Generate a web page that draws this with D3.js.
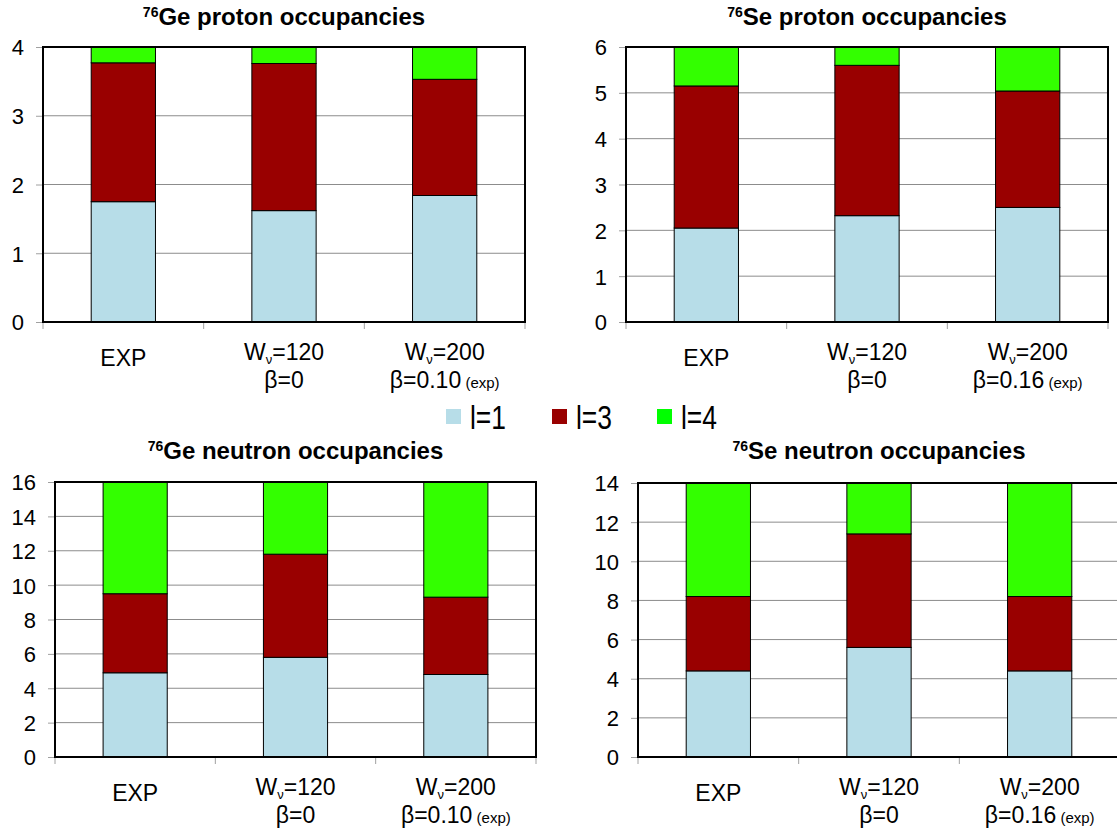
<!DOCTYPE html>
<html>
<head>
<meta charset="utf-8">
<script src="https://cdn.jsdelivr.net/npm/d3@7"></script>
<style>
  html, body { margin: 0; padding: 0; background: #fff; }
  svg { display: block; }
  svg text { font-family: "Liberation Sans", Arial, sans-serif; }
</style>
</head>
<body>
<svg id="chart" width="1117" height="831"></svg>
<script>
// ---------- data ----------
const categories = ["EXP", "W120", "W200"];
const wValues = ["", "120", "200"];
const geBeta = ["", "0", "0.10"];
const seBeta = ["", "0", "0.16"];
const seriesNames = ["l=1", "l=3", "l=4"];

const geProtonL1 = [1.75, 1.62, 1.84];
const geProtonL3 = [2.02, 2.14, 1.69];
const geProtonL4 = [0.23, 0.24, 0.47];

const seProtonL1 = [2.05, 2.32, 2.50];
const seProtonL3 = [3.10, 3.28, 2.54];
const seProtonL4 = [0.85, 0.40, 0.96];

const geNeutronL1 = [4.9, 5.8, 4.8];
const geNeutronL3 = [4.6, 6.0, 4.5];
const geNeutronL4 = [6.5, 4.2, 6.7];

const seNeutronL1 = [4.4, 5.6, 4.4];
const seNeutronL3 = [3.8, 5.8, 3.8];
const seNeutronL4 = [5.8, 2.6, 5.8];

const geProtonTicks = [0, 1, 2, 3, 4];
const seProtonTicks = [0, 1, 2, 3, 4, 5, 6];
const geNeutronTicks = [0, 2, 4, 6, 8, 10, 12, 14, 16];
const seNeutronTicks = [0, 2, 4, 6, 8, 10, 12, 14];

// ---------- styles ----------
const barColors = ["#b7dde8", "#990000", "#33ff00"];
const legendColors = ["#b7dde8", "#990000", "#00ff00"];
const FONT = "'Liberation Sans', Arial, sans-serif";

const svg = d3.select("#chart");
svg.append("rect").attr("width", 1117).attr("height", 831).attr("fill", "#fff");

function panel(cfg) {
  const { x0, x1, y0, y1, l1, l3, l4, ticks, nucleus, kind, beta, titleY } = cfg;
  const g = svg.append("g");
  const x = d3.scaleBand().domain(categories).range([x0, x1]).padding(0);
  const y = d3.scaleLinear().domain([0, d3.max(ticks)]).range([y1, y0]);

  // gridlines
  g.append("g").selectAll("line").data(ticks.filter(t => t > 0)).join("line")
    .attr("x1", x0).attr("x2", x1)
    .attr("y1", d => y(d)).attr("y2", d => y(d))
    .attr("stroke", "#8c8c8c").attr("stroke-width", 1);

  // y axis
  const ya = g.append("g").attr("transform", `translate(${x0},0)`)
    .call(d3.axisLeft(y).tickValues(ticks).tickSize(7).tickPadding(12).tickFormat(d3.format("d")));
  ya.attr("font-family", FONT).attr("font-size", 22);
  ya.select(".domain").remove();
  ya.selectAll(".tick line").attr("stroke", "#a0a0a0");
  ya.selectAll(".tick text").attr("fill", "#000").attr("dy", "0.36em");

  // stacked bars
  const rows = categories.map((c, i) => ({ cat: c, l1: l1[i], l3: l3[i], l4: l4[i] }));
  const stack = d3.stack().keys(["l1", "l3", "l4"])(rows);
  const bw = x.bandwidth() * 0.4;
  g.append("g").selectAll("g").data(stack).join("g")
    .attr("fill", (d, i) => barColors[i])
    .selectAll("rect").data(d => d).join("rect")
    .attr("x", d => x(d.data.cat) + (x.bandwidth() - bw) / 2)
    .attr("width", bw)
    .attr("y", d => y(d[1]))
    .attr("height", d => y(d[0]) - y(d[1]))
    .attr("stroke", "#000").attr("stroke-width", 1);

  // frame
  g.append("rect").attr("x", x0).attr("y", y0).attr("width", x1 - x0).attr("height", y1 - y0)
    .attr("fill", "none").attr("stroke", "#000").attr("stroke-width", 2);

  // x boundary ticks
  const bounds = categories.map(c => x(c)).concat([x1]);
  g.append("g").selectAll("line").data(bounds).join("line")
    .attr("x1", d => d).attr("x2", d => d)
    .attr("y1", y1 + 1).attr("y2", y1 + 7)
    .attr("stroke", "#a0a0a0").attr("stroke-width", 1);

  // x axis labels via band scale
  const xa = g.append("g").attr("transform", `translate(0,${y1})`)
    .call(d3.axisBottom(x).tickSize(0).tickFormat(""));
  xa.attr("font-family", FONT).attr("font-size", 23);
  xa.select(".domain").remove();
  xa.selectAll(".tick").each(function (d, i) {
    const t = d3.select(this);
    if (i === 0) {
      t.append("text").attr("y", 44).attr("text-anchor", "middle").attr("fill", "#000").text(d);
    } else {
      const t1 = t.append("text").attr("y", 38).attr("text-anchor", "middle").attr("fill", "#000");
      t1.append("tspan").text("W");
      t1.append("tspan").attr("font-size", 13).attr("dy", 4).text("ν");
      t1.append("tspan").attr("dy", -4).text("=" + wValues[i]);
      const t2 = t.append("text").attr("y", 66).attr("text-anchor", "middle").attr("fill", "#000");
      t2.append("tspan").text("β=" + beta[i]);
      if (i === 2) t2.append("tspan").attr("font-size", 15).text(" (exp)");
    }
  });

  // title
  const title = svg.append("text").attr("x", (x0 + x1) / 2).attr("y", titleY)
    .attr("text-anchor", "middle").attr("font-weight", "bold").attr("font-size", 24).attr("fill", "#000");
  title.append("tspan").attr("font-size", 14).attr("dy", -8).text("76");
  title.append("tspan").attr("dy", 8).text(nucleus + " " + kind + " occupancies");
}

panel({ x0: 43, x1: 525, y0: 47, y1: 322, l1: geProtonL1, l3: geProtonL3, l4: geProtonL4,
  ticks: geProtonTicks, nucleus: "Ge", kind: "proton", beta: geBeta, titleY: 25 });
panel({ x0: 626, x1: 1108, y0: 47, y1: 322, l1: seProtonL1, l3: seProtonL3, l4: seProtonL4,
  ticks: seProtonTicks, nucleus: "Se", kind: "proton", beta: seBeta, titleY: 25 });
panel({ x0: 55, x1: 536, y0: 482, y1: 757, l1: geNeutronL1, l3: geNeutronL3, l4: geNeutronL4,
  ticks: geNeutronTicks, nucleus: "Ge", kind: "neutron", beta: geBeta, titleY: 459 });
panel({ x0: 638, x1: 1120, y0: 483, y1: 757, l1: seNeutronL1, l3: seNeutronL3, l4: seNeutronL4,
  ticks: seNeutronTicks, nucleus: "Se", kind: "neutron", beta: seBeta, titleY: 459 });

// legend
const legendX = [446, 552, 657];
const lg = svg.append("g");
seriesNames.forEach((name, i) => {
  lg.append("rect").attr("x", legendX[i]).attr("y", 409).attr("width", 15).attr("height", 15)
    .attr("fill", legendColors[i]);
  lg.append("text").attr("transform", `translate(${legendX[i] + 24},429) scale(0.8,1)`)
    .attr("font-size", 33).attr("fill", "#000").text(name);
});
</script>
</body>
</html>
